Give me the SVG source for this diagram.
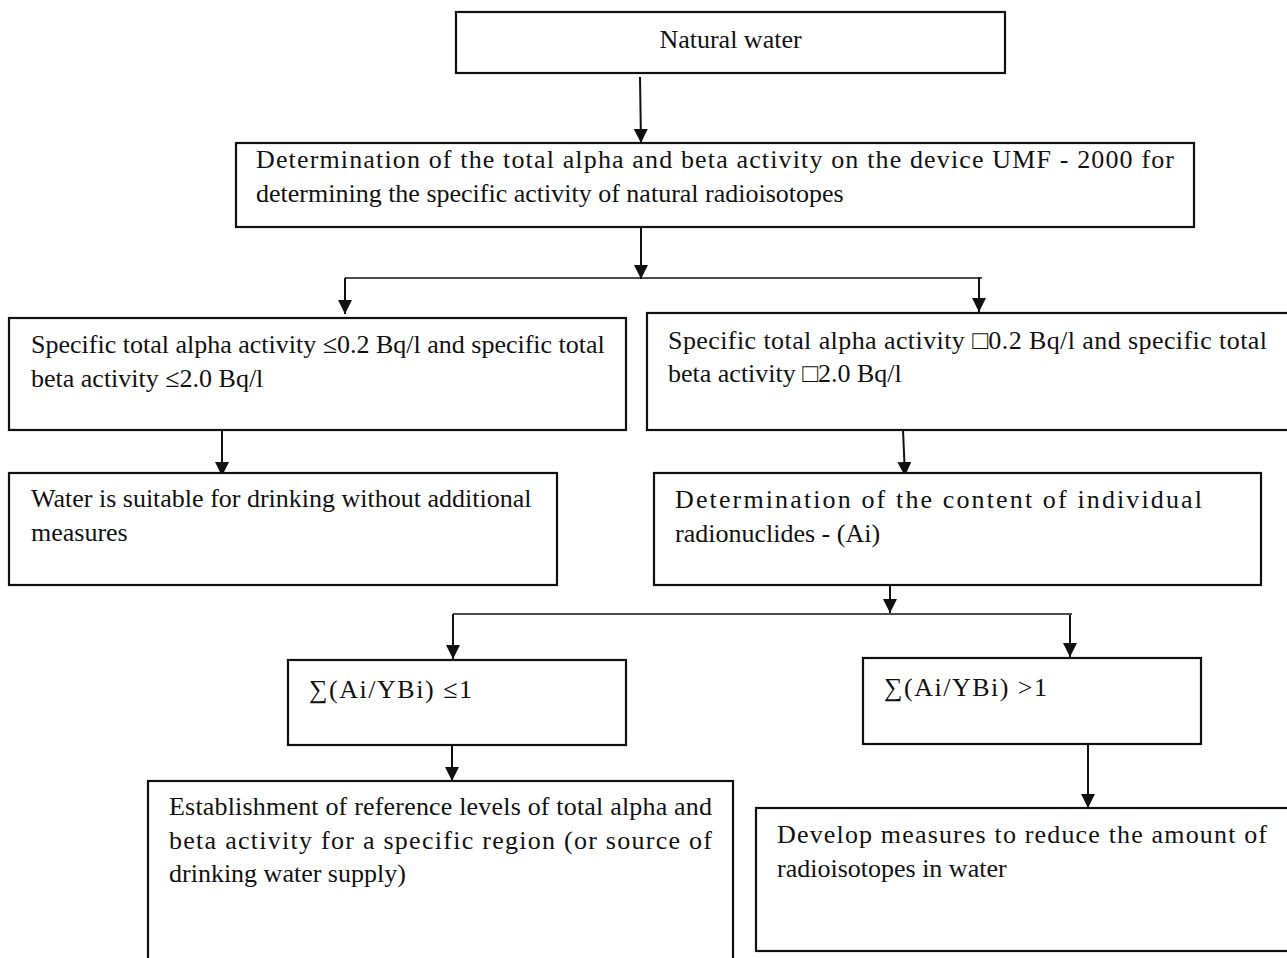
<svg xmlns="http://www.w3.org/2000/svg" width="1287" height="958" viewBox="0 0 1287 958">
<defs>
<style>
.box{fill:#fff;stroke:#111;stroke-width:2.2}
.t{font-family:"Liberation Serif","Times New Roman",serif;font-size:26px;fill:#111}
.c{stroke:#111;stroke-width:2;fill:none}
.h{stroke:#111;stroke-width:1.6;fill:none}
</style>
<marker id="ah" markerUnits="userSpaceOnUse" markerWidth="14" markerHeight="14" refX="14" refY="7" orient="auto">
<path d="M0,0 L14,7 L0,14 z" fill="#111"/>
</marker>
</defs>
<rect width="1287" height="958" fill="#fff"/>

<g id="connectors">
<line class="c" x1="640" y1="77" x2="641" y2="143" marker-end="url(#ah)"/>
<line class="c" x1="641" y1="227" x2="641" y2="279" marker-end="url(#ah)"/>
<line class="h" x1="345" y1="278" x2="982" y2="278"/>
<line class="c" x1="345" y1="278" x2="345" y2="314" marker-end="url(#ah)"/>
<line class="c" x1="979" y1="277" x2="979" y2="312" marker-end="url(#ah)"/>
<line class="c" x1="222" y1="430" x2="222" y2="476" marker-end="url(#ah)"/>
<line class="c" x1="903" y1="430" x2="905" y2="476" marker-end="url(#ah)"/>
<line class="c" x1="890" y1="585" x2="890" y2="613" marker-end="url(#ah)"/>
<line class="h" x1="453" y1="614" x2="1072" y2="614"/>
<line class="c" x1="453" y1="614" x2="453" y2="659" marker-end="url(#ah)"/>
<line class="c" x1="1070" y1="615" x2="1070" y2="657" marker-end="url(#ah)"/>
<line class="c" x1="452" y1="745" x2="452" y2="781" marker-end="url(#ah)"/>
<line class="c" x1="1088" y1="744" x2="1088" y2="808" marker-end="url(#ah)"/>
</g>

<g id="n-natural-water">
<rect class="box" x="456" y="12" width="549" height="61"/>
<text class="t" x="730.5" y="48" text-anchor="middle">Natural water</text>
</g>

<g id="n-determination-total">
<rect class="box" x="236" y="143" width="958" height="84"/>
<text class="t" x="256" y="168" textLength="918" lengthAdjust="spacing">Determination of the total alpha and beta activity on the device UMF - 2000 for</text>
<text class="t" x="256" y="202">determining the specific activity of natural radioisotopes</text>
</g>

<g id="n-low-activity">
<rect class="box" x="9" y="318" width="617" height="112"/>
<text class="t" x="31" y="353">Specific total alpha activity ≤0.2 Bq/l and specific total</text>
<text class="t" x="31" y="387">beta activity ≤2.0 Bq/l</text>
</g>

<g id="n-high-activity">
<rect class="box" x="647" y="313" width="660" height="117"/>
<text class="t" x="668" y="349" textLength="599" lengthAdjust="spacing">Specific total alpha activity □0.2 Bq/l and specific total</text>
<text class="t" x="668" y="382">beta activity □2.0 Bq/l</text>
</g>

<g id="n-suitable">
<rect class="box" x="9" y="473" width="548" height="112"/>
<text class="t" x="31" y="507">Water is suitable for drinking without additional</text>
<text class="t" x="31" y="541">measures</text>
</g>

<g id="n-individual">
<rect class="box" x="654" y="473" width="607" height="112"/>
<text class="t" x="675" y="508" textLength="527" lengthAdjust="spacing">Determination of the content of individual</text>
<text class="t" x="675" y="542">radionuclides - (Ai)</text>
</g>

<g id="n-sum-le1">
<rect class="box" x="288" y="660" width="338" height="85"/>
<text class="t" x="309" y="698" textLength="163" lengthAdjust="spacing">∑(Ai/YBi) ≤1</text>
</g>

<g id="n-sum-gt1">
<rect class="box" x="863" y="658" width="338" height="86"/>
<text class="t" x="884" y="696" textLength="163" lengthAdjust="spacing">∑(Ai/YBi) &gt;1</text>
</g>

<g id="n-reference-levels">
<rect class="box" x="148" y="781" width="585" height="200"/>
<text class="t" x="169" y="815" textLength="543" lengthAdjust="spacing">Establishment of reference levels of total alpha and</text>
<text class="t" x="169" y="849" textLength="543" lengthAdjust="spacing">beta activity for a specific region (or source of</text>
<text class="t" x="169" y="882">drinking water supply)</text>
</g>

<g id="n-develop-measures">
<rect class="box" x="756" y="808" width="560" height="143"/>
<text class="t" x="777" y="843" textLength="490" lengthAdjust="spacing">Develop measures to reduce the amount of</text>
<text class="t" x="777" y="877">radioisotopes in water</text>
</g>
</svg>
